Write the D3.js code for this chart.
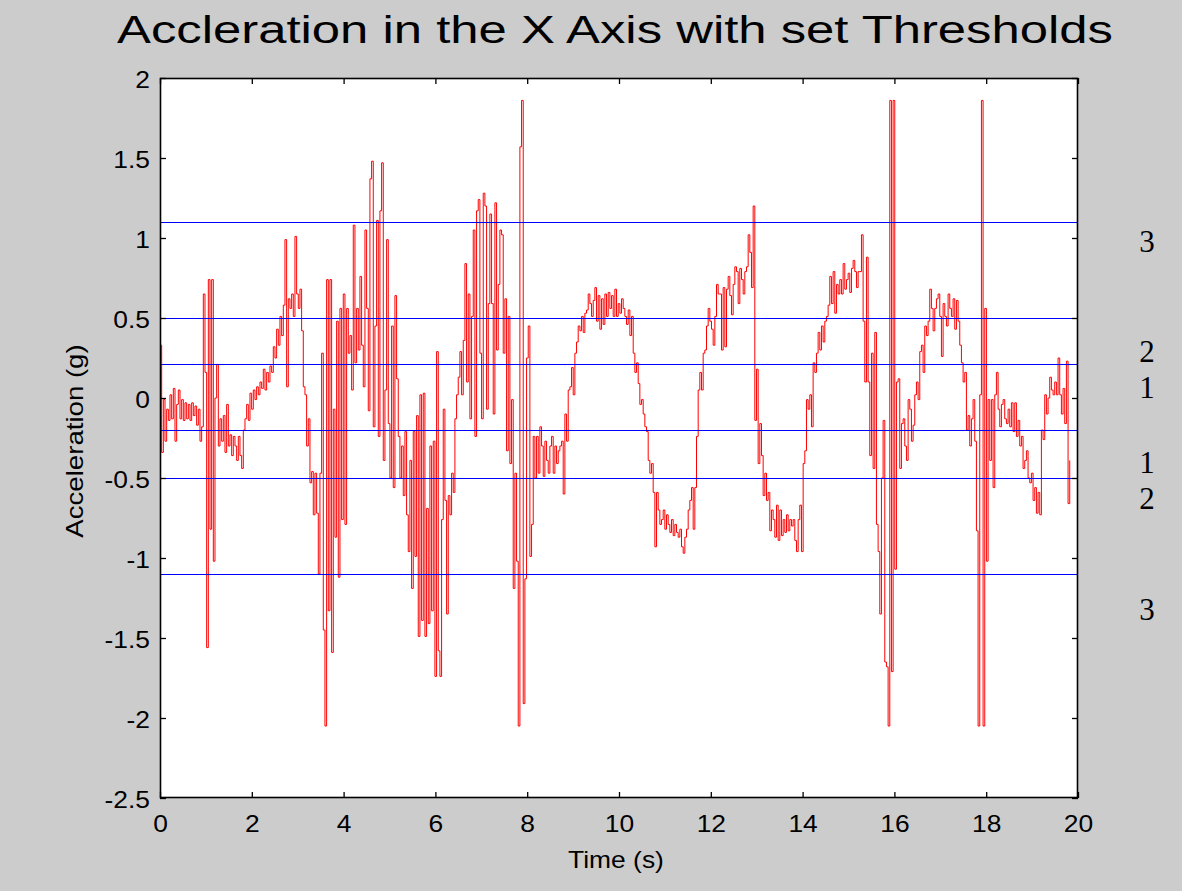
<!DOCTYPE html>
<html>
<head>
<meta charset="utf-8">
<script src="https://cdn.jsdelivr.net/npm/d3@7/dist/d3.min.js"></script>
<style>
  body { margin: 0; background: #cccccc; }
  svg { display: block; }
  text { font-family: "Liberation Sans", Arial, Helvetica, sans-serif; fill: #000; }
</style>
</head>
<body>
<svg id="chart" width="1182" height="891"></svg>
<script>
// accelerometer samples, x axis, in g. one sample every sampleInterval seconds
var sampleInterval = 0.0363

// 0 - 3.9 s
var seg1 = [
  0.33, -0.34, -0.01, -0.27, -0.07, -0.14, 0.02, -0.13, 0.06, -0.27,
  -0.04, 0.05, -0.13, -0.01, -0.14, -0.03, -0.13, -0.04, -0.14, -0.03,
  -0.11, -0.05, -0.17, -0.07, -0.27, -0.18, 0.65, 0.16, -1.56, 0.74,
  -0.82, 0.74, -1.02, 0.00, 0.21, -0.30, -0.13, -0.27, -0.11, -0.34,
  -0.04, -0.30, -0.23, -0.36, -0.24, -0.30, -0.39, -0.24, -0.36, -0.44,
  -0.20, -0.13, -0.04, -0.14, 0.03, -0.07, 0.05, -0.01, 0.07, 0.02,
  0.10, 0.06, 0.18, 0.05, 0.16, 0.10, 0.20, 0.16, 0.32, 0.25,
  0.43, 0.33, 0.51, 0.39, 0.58, 0.99, 0.07, 0.62, 0.56, 0.65,
  0.51, 1.01, 0.65, 0.56, 0.68, 0.42, 0.07, 0.02, -0.30, -0.13,
  -0.53, -0.46, -0.73, -0.47, -0.72, -1.10, -0.47, 0.28, -1.45, -2.05,
  0.74, -1.33, 0.74, -1.59, -0.07, -0.87, 0.48, -1.12
]
// 3.9 - 7.9 s
var seg2 = [
  0.56, -0.76, 0.65, -0.79, 0.56, 0.28, 0.39, 0.05, 1.08, 0.22,
  0.56, 0.30, 0.76, 0.33, 0.07, 1.05, 0.56, -0.08, 1.37, 1.48,
  -0.18, 0.45, 1.11, -0.24, 1.17, 1.47, -0.39, 0.05, 0.99, -0.16,
  -0.50, 0.45, -0.56, 0.64, 0.12, -0.24, -0.50, -0.30, -0.61, -0.21,
  -0.73, -0.96, -0.39, -1.19, -0.21, -0.99, -0.11, -1.49, 0.02, -1.39,
  0.03, -1.49, -0.69, -1.41, -0.30, -1.33, -0.27, -1.74, 0.29, -1.58,
  -1.74, -0.76, -0.07, -0.64, -1.35, -0.61, -0.73, -0.47, -0.59, -0.13,
  0.02, 0.13, 0.29, 0.02, 0.36, 0.84, 0.10, 0.65, -0.13, 0.51,
  1.05, -0.24, 1.17, 1.24, 0.28, -0.13, 1.28, 1.20, -0.07, 0.59,
  1.15, 0.59, -0.10, 1.22, 0.30, 0.71, 1.05, 1.02, 0.28, 0.62,
  -0.33, 0.51, -0.41, -0.01, -1.19, -0.47, -1.02, -2.05, 1.57, 1.86,
  -1.91
]
// 7.9 - 12 s
var seg3 = [
  -1.13, 0.25, 0.45, -0.99, -0.79, -0.24, -0.50, -0.24, -0.47, -0.18,
  -0.30, -0.49, -0.27, -0.39, -0.47, -0.30, -0.24, -0.47, -0.30, -0.41,
  -0.33, -0.30, -0.27, -0.60, -0.10, -0.27, 0.05, 0.07, 0.19, 0.02,
  0.28, 0.35, 0.45, 0.42, 0.51, 0.41, 0.53, 0.55, 0.65, 0.59,
  0.51, 0.61, 0.69, 0.48, 0.64, 0.43, 0.62, 0.46, 0.65, 0.51,
  0.66, 0.56, 0.64, 0.51, 0.68, 0.51, 0.59, 0.53, 0.62, 0.56,
  0.51, 0.46, 0.55, 0.39, 0.51, 0.28, 0.16, 0.22, 0.09, -0.04,
  -0.01, -0.10, -0.18, -0.21, -0.39, -0.47, -0.41, -0.59, -0.93, -0.59,
  -0.70, -0.79, -0.76, -0.70, -0.82, -0.73, -0.79, -0.84, -0.76, -0.86,
  -0.79, -0.84, -0.87, -0.82, -0.93, -0.97, -0.87, -0.82, -0.70, -0.64,
  -0.56, -0.82, -0.56, -0.24, 0.05, 0.16, 0.05, 0.28, 0.30, 0.45,
  0.56
]
// 12 - 16 s
var seg4 = [
  0.48, 0.43, 0.33, 0.51, 0.71, 0.65, 0.65, 0.30, 0.69, 0.32,
  0.68, 0.76, 0.64, 0.52, 0.71, 0.82, 0.79, 0.59, 0.81, 0.74,
  0.65, 0.79, 0.82, 1.02, 0.91, 0.69, 1.20, -0.14, 0.18, -0.41,
  -0.16, -0.36, -0.61, -0.47, -0.64, -0.59, -0.83, -0.70, -0.76, -0.87,
  -0.67, -0.89, -0.70, -0.86, -0.76, -0.84, -0.73, -0.83, -0.76, -0.80,
  -0.76, -0.89, -0.96, -0.76, -0.67, -0.96, -0.41, -0.33, -0.01, -0.07,
  0.02, -0.18, 0.22, 0.16, 0.28, 0.41, 0.30, 0.45, 0.35, 0.48,
  0.51, 0.58, 0.76, 0.59, 0.79, 0.53, 0.71, 0.65, 0.74, 0.65,
  0.84, 0.68, 0.74, 0.78, 0.66, 0.81, 0.86, 0.79, 0.69, 0.79,
  0.79, 1.02, 0.48, 0.10, 0.88, 0.10, -0.36, 0.28, -0.44, 0.41,
  -0.79, -0.96, -1.35, -0.50, -0.14, -1.65, -1.68, -2.05, 1.86, -1.71,
  1.86
]
// 16 - 19.8 s
var seg5 = [
  -1.07, 0.10, 0.12, -0.44, -0.16, -0.13, -0.30, -0.39, -0.01, -0.07,
  -0.27, -0.17, 0.02, 0.10, -0.01, 0.29, 0.33, 0.16, 0.45, 0.39,
  0.48, 0.68, 0.56, 0.42, 0.56, 0.62, 0.65, 0.51, 0.26, 0.59,
  0.51, 0.45, 0.65, 0.56, 0.51, 0.62, 0.43, 0.61, 0.48, 0.33,
  0.22, 0.10, 0.16, -0.20, -0.11, -0.30, -0.13, -0.01, -0.27, -0.83,
  -2.05, 0.02, 1.86, -2.05, 0.56, -1.02, -0.01, -0.39, -0.01, -0.56,
  0.02, 0.16, -0.07, -0.18, -0.04, -0.01, -0.13, -0.16, -0.07, -0.18,
  -0.03, -0.21, -0.03, -0.24, -0.14, -0.30, -0.24, -0.44, -0.39, -0.33,
  -0.50, -0.53, -0.47, -0.64, -0.56, -0.72, -0.59, -0.73, -0.20, -0.26,
  0.02, -0.10, 0.00, 0.13, 0.05, 0.02, 0.10, 0.02, 0.25, 0.02,
  -0.10, 0.06, -0.16, 0.23, -0.66, -0.39
]

var accel = seg1.concat(seg2, seg3, seg4, seg5)

var thresholds = [1.1, 0.5, 0.21, -0.2, -0.5, -1.1]
var zoneLabels = ['3', '2', '1', '1', '2', '3']
var zoneLabelY = [0.98, 0.29, 0.07, -0.4, -0.625, -1.32]

var xTicks = [0, 2, 4, 6, 8, 10, 12, 14, 16, 18, 20]
var yTicks = [-2.5, -2, -1.5, -1, -0.5, 0, 0.5, 1, 1.5, 2]

var svg = d3.select('#chart')

var x = d3.scaleLinear().domain([0, 20]).range([160, 1078])
var y = d3.scaleLinear().domain([-2.5, 2]).range([798, 78])

// the exported figure is a bit wider than the font, stretch text to match
function widen(sel, k) {
  sel.each(function() {
    var w = this.getComputedTextLength()
    d3.select(this).attr('textLength', w * k).attr('lengthAdjust', 'spacingAndGlyphs')
  })
}

// white axes area
svg.append('rect')
  .attr('x', 160).attr('y', 78)
  .attr('width', 918).attr('height', 720)
  .attr('fill', '#fff')

// signal
var line = d3.line()
  .x((d, i) => x(i * sampleInterval))
  .y(d => y(d))
  .curve(d3.curveStepAfter)

svg.append('path')
  .datum(accel)
  .attr('d', line)
  .attr('fill', 'none')
  .attr('stroke', '#ff0000')
  .attr('stroke-width', 1)

// thresholds
svg.selectAll('.thr')
  .data(thresholds)
  .enter()
  .append('line')
    .attr('class', 'thr')
    .attr('x1', x(0)).attr('x2', x(20))
    .attr('y1', d => Math.round(y(d)) + 0.5)
    .attr('y2', d => Math.round(y(d)) + 0.5)
    .attr('stroke', '#0000ff')
    .attr('stroke-width', 1)

// axes, matlab style ticks pointing in
function styleAxis(g) {
  g.select('.domain').remove()
  g.selectAll('line').attr('stroke', '#000').attr('stroke-width', 1.3)
  g.selectAll('text').style('font-size', '24px')
}
svg.append('g')
  .attr('transform', 'translate(0,798)')
  .call(d3.axisBottom(x).tickValues(xTicks).tickSizeInner(-6).tickSizeOuter(0).tickPadding(17).tickFormat(d3.format('d')))
  .call(styleAxis)
  .selectAll('text').call(widen, 1.1)
svg.append('g')
  .attr('transform', 'translate(0,78)')
  .call(d3.axisTop(x).tickValues(xTicks).tickSizeInner(-6).tickSizeOuter(0).tickFormat(''))
  .call(styleAxis)
svg.append('g')
  .attr('transform', 'translate(160,0)')
  .call(d3.axisLeft(y).tickValues(yTicks).tickSizeInner(-6).tickSizeOuter(0).tickPadding(10).tickFormat(d => String(d)))
  .call(styleAxis)
  .selectAll('text').attr('dy', '0.38em').call(widen, 1.1)
svg.append('g')
  .attr('transform', 'translate(1078,0)')
  .call(d3.axisRight(y).tickValues(yTicks).tickSizeInner(-6).tickSizeOuter(0).tickFormat(''))
  .call(styleAxis)

svg.append('rect')
  .attr('x', 160.5).attr('y', 78.5)
  .attr('width', 917).attr('height', 719)
  .attr('fill', 'none')
  .attr('stroke', '#000')
  .attr('stroke-width', 1.6)

// zone numbers to the right
svg.selectAll('.zone')
  .data(zoneLabels)
  .enter()
  .append('text')
    .attr('class', 'zone')
    .attr('x', 1147)
    .attr('y', (d, i) => y(zoneLabelY[i]))
    .attr('dy', '0.35em')
    .attr('text-anchor', 'middle')
    .style('font-family', '"Liberation Serif", "Times New Roman", serif')
    .style('font-size', '31px')
    .text(d => d)

svg.append('text')
  .attr('x', 615).attr('y', 43)
  .attr('text-anchor', 'middle')
  .attr('textLength', 996)
  .attr('lengthAdjust', 'spacingAndGlyphs')
  .style('font-size', '38px')
  .text('Accleration in the X Axis with set Thresholds')

svg.append('text')
  .attr('x', 616).attr('y', 868)
  .attr('text-anchor', 'middle')
  .style('font-size', '24px')
  .text('Time (s)')
  .call(widen, 1.1)

svg.append('text')
  .attr('transform', 'translate(83,441) rotate(-90)')
  .attr('text-anchor', 'middle')
  .style('font-size', '24px')
  .text('Acceleration (g)')
  .call(widen, 1.15)
</script>
</body>
</html>
